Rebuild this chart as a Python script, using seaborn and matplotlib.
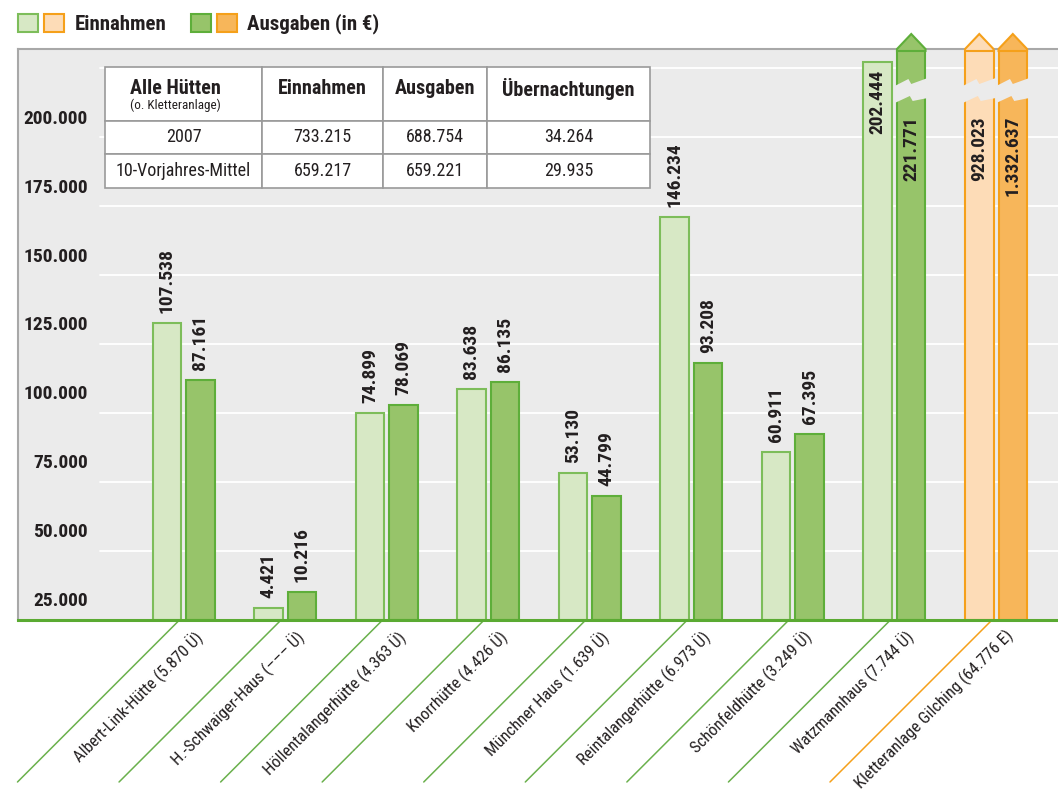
import matplotlib
matplotlib.use("Agg")
import numpy as np
import pandas as pd
import matplotlib.pyplot as plt
import seaborn as sns
from matplotlib import font_manager as fm
from matplotlib.patches import Patch, Polygon
from matplotlib.legend_handler import HandlerTuple

huetten = [
    "Albert-Link-Hütte (5.870 Ü)",
    "H.-Schwaiger-Haus (––– Ü)",
    "Höllentalangerhütte (4.363 Ü)",
    "Knorrhütte (4.426 Ü)",
    "Münchner Haus (1.639 Ü)",
    "Reintalangerhütte (6.973 Ü)",
    "Schönfeldhütte (3.249 Ü)",
    "Watzmannhaus (7.744 Ü)",
    "Kletteranlage Gilching (64.776 E)",
]
einnahmen = [107538, 4421, 74899, 83638, 53130, 146234, 60911, 202444, 928023]
ausgaben = [87161, 10216, 78069, 86135, 44799, 93208, 67395, 221771, 1332637]

y_ticks = [25000, 50000, 75000, 100000, 125000, 150000, 175000, 200000]

tab_kopf = ["Alle Hütten", "Einnahmen", "Ausgaben", "Übernachtungen"]
tab_zeilen = ["2007", "10-Vorjahres-Mittel"]
tab_einnahmen = [733215, 659217]
tab_ausgaben = [688754, 659221]
tab_uebernachtungen = [34264, 29935]

LG, LG_E = "#d7e8c5", "#7dbd5a"
DG, DG_E = "#97c46a", "#5eae3a"
LO, LO_E = "#fddcb7", "#f5a01a"
DO, DO_E = "#f7b65a", "#f5a01a"
BG = "#ebebeb"
TXT = "#231f20"


def fmt(v):
    return f"{v:,}".replace(",", ".")


sns.set_style("white")

# pick a narrow font if one is installed, otherwise shrink a normal one
ttf = fm.fontManager.ttflist
names = {f.name for f in ttf}
narrow = [n for n in ["Roboto Condensed", "Open Sans Condensed", "Liberation Sans Narrow",
                      "Noto Sans Condensed", "Arial Narrow"] if n in names]
stretch = "normal"
if narrow:
    family, scale = narrow[0], 1.0
elif any(f.name == "DejaVu Sans" and f.stretch == "condensed" for f in ttf):
    family, scale, stretch = "DejaVu Sans", 0.92, "condensed"
else:
    family, scale = "Roboto", 0.86
plt.rcParams["font.family"] = [family, "DejaVu Sans"]
plt.rcParams["font.stretch"] = stretch

W, H = 1058, 791
fig = plt.figure(figsize=(W / 100, H / 100), dpi=100)
ax_l, ax_r, ax_t, ax_b = 18, 1058, 49, 620
ax = fig.add_axes([ax_l / W, (H - ax_b) / H, (ax_r - ax_l) / W, (ax_b - ax_t) / H])
ax.set_facecolor(BG)

YMAX = 207000
XMIN, XMAX = -1.63, 8.61
dpy = YMAX / (ax_b - ax_t)

df = pd.DataFrame({
    "Hütte": huetten * 2,
    "Art": ["Einnahmen"] * len(huetten) + ["Ausgaben"] * len(huetten),
    "Betrag": einnahmen + ausgaben,
})

sns.barplot(data=df, x="Hütte", y="Betrag", hue="Art", hue_order=["Einnahmen", "Ausgaben"],
            palette=[LG, DG], width=0.66, gap=0.15, errorbar=None, legend=False,
            linewidth=1.5, ax=ax, zorder=2)

ax.set_xlim(XMIN, XMAX)
ax.set_ylim(0, YMAX)

for v in y_ticks:
    ax.axhline(v, xmin=(100 - ax_l) / (ax_r - ax_l), color="white", lw=1.3, zorder=0.5)

fs_val = 14 * scale
for ci, (cont, vals) in enumerate(zip(ax.containers, [einnahmen, ausgaben])):
    for i, (bar, v) in enumerate(zip(cont, vals)):
        if i == len(huetten) - 1:
            fc, ec = (LO, LO_E) if ci == 0 else (DO, DO_E)
        else:
            fc, ec = (LG, LG_E) if ci == 0 else (DG, DG_E)
        bar.set_facecolor(fc)
        bar.set_edgecolor(ec)
        x0, w = bar.get_x(), bar.get_width()
        cx = x0 + w / 2
        if v > YMAX:
            tri = Polygon([(x0, YMAX - 2 * dpy), (x0 + w, YMAX - 2 * dpy), (x0 + w, YMAX),
                           (cx, YMAX + 15 * dpy), (x0, YMAX)],
                          closed=True, facecolor=fc, edgecolor=ec, lw=1.5,
                          clip_on=False, zorder=3)
            ax.add_patch(tri)
            fr = [(-0.08, 37), (0.4, 30), (0.5, 35), (1.08, 29),
                  (1.08, 49), (0.55, 52), (0.45, 47), (-0.08, 54)]
            band = Polygon([(x0 + f * w, YMAX - d * dpy) for f, d in fr], closed=True,
                           facecolor=BG, edgecolor="none", zorder=3.2)
            ax.add_patch(band)
            ax.annotate(fmt(v), xy=(cx, YMAX), xytext=(0, -67), textcoords="offset pixels",
                        rotation=90, ha="center", va="top", fontsize=fs_val, fontweight="bold",
                        color=TXT, zorder=5)
        elif v > 175000:
            ax.annotate(fmt(v), xy=(cx, v), xytext=(0, -8), textcoords="offset pixels",
                        rotation=90, ha="center", va="top", fontsize=fs_val, fontweight="bold",
                        color=TXT, zorder=5)
        else:
            ax.annotate(fmt(v), xy=(cx, v), xytext=(0, 10), textcoords="offset pixels",
                        rotation=90, ha="center", va="bottom", fontsize=fs_val, fontweight="bold",
                        color=TXT, zorder=5)

# y tick labels, placed where the original graphic has them
ax.set_yticks([v - 17500 for v in y_ticks])
ax.set_yticklabels([fmt(v) for v in y_ticks], fontsize=14 * scale, fontweight="bold", color=TXT)
ax.tick_params(axis="y", length=0, pad=-70 * 0.72)
ax.set_xticks([])
ax.set_xlabel("")
ax.set_ylabel("")

for s in ["top", "left"]:
    ax.spines[s].set_color("#a8a8a8")
    ax.spines[s].set_linewidth(1.5)
ax.spines["right"].set_visible(False)
ax.spines["bottom"].set_color("#5aaa32")
ax.spines["bottom"].set_linewidth(2.2)
ax.spines["bottom"].set_zorder(4)

# diagonal category labels with guide lines
for i, name in enumerate(huetten):
    lc = "#f5a01a" if i == len(huetten) - 1 else "#6ab04c"
    xs = i - 0.04
    ax.annotate("", xy=(xs, 0), xytext=(-162, -162), textcoords="offset pixels",
                arrowprops=dict(arrowstyle="-", color=lc, lw=1.1, shrinkA=0, shrinkB=0),
                annotation_clip=False)
    ax.annotate(name, xy=(xs, 0), xytext=(13, -7), textcoords="offset pixels",
                rotation=45, rotation_mode="anchor", ha="right", va="top",
                fontsize=12 * scale, color=TXT, annotation_clip=False)

# summary table
cols_px = [105, 262, 383, 487, 650]
rows_px = [67, 121, 154, 188]
col_w = np.diff(cols_px)
cell_text = [[""] * 4]
for r, a, b, c in zip(tab_zeilen, tab_einnahmen, tab_ausgaben, tab_uebernachtungen):
    cell_text.append([r, fmt(a), fmt(b), fmt(c)])
bx = (cols_px[0] - ax_l) / (ax_r - ax_l)
by = (ax_b - rows_px[-1]) / (ax_b - ax_t)
bw = (cols_px[-1] - cols_px[0]) / (ax_r - ax_l)
bh = (rows_px[-1] - rows_px[0]) / (ax_b - ax_t)
tab = ax.table(cellText=cell_text, colWidths=list(col_w / col_w.sum()), cellLoc="center",
               bbox=[bx, by, bw, bh])
tab.auto_set_font_size(False)
tab.set_fontsize(13 * scale)
tab.set_zorder(6)
row_h = np.diff(rows_px)
for (r, c), cell in tab.get_celld().items():
    cell.set_edgecolor("#9a9a9a")
    cell.set_linewidth(1.2)
    cell.set_facecolor("white")
    cell.set_height(row_h[r])
    cell.get_text().set_color(TXT)


def fx(px):
    return (px - ax_l) / (ax_r - ax_l)


def fy(py):
    return (ax_b - py) / (ax_b - ax_t)


for c, head in enumerate(tab_kopf):
    xc = fx((cols_px[c] + cols_px[c + 1]) / 2)
    if c == 0:
        xc = fx(175)
    ax.text(xc, fy(89), head, transform=ax.transAxes, ha="center", va="center",
            fontsize=14.5 * scale, fontweight="bold", color=TXT, zorder=7)
ax.text(fx(175), fy(105), "(o. Kletteranlage)", transform=ax.transAxes, ha="center",
        va="center", fontsize=9.5 * scale, color=TXT, zorder=7)

# legend
h1 = (Patch(facecolor=LG, edgecolor=LG_E, lw=1.5), Patch(facecolor=LO, edgecolor=LO_E, lw=1.5))
h2 = (Patch(facecolor=DG, edgecolor=DG_E, lw=1.5), Patch(facecolor=DO, edgecolor=DO_E, lw=1.5))
fs_leg = 15 * scale
leg = fig.legend([h1, h2], ["Einnahmen", "Ausgaben (in €)"],
                 handler_map={tuple: HandlerTuple(ndivide=None, pad=0.3 * 15 / fs_leg)},
                 loc="center left", bbox_to_anchor=(18 / W, 1 - 24 / H), ncol=2,
                 frameon=False, handlelength=2.2 * 15 / fs_leg, handleheight=0.96 * 15 / fs_leg,
                 handletextpad=0.5 * 15 / fs_leg, columnspacing=1.2 * 15 / fs_leg,
                 borderpad=0, borderaxespad=0,
                 prop=dict(weight="bold", size=fs_leg))
for t in leg.get_texts():
    t.set_color(TXT)

plt.savefig("out.png", dpi=100)
plt.close()
